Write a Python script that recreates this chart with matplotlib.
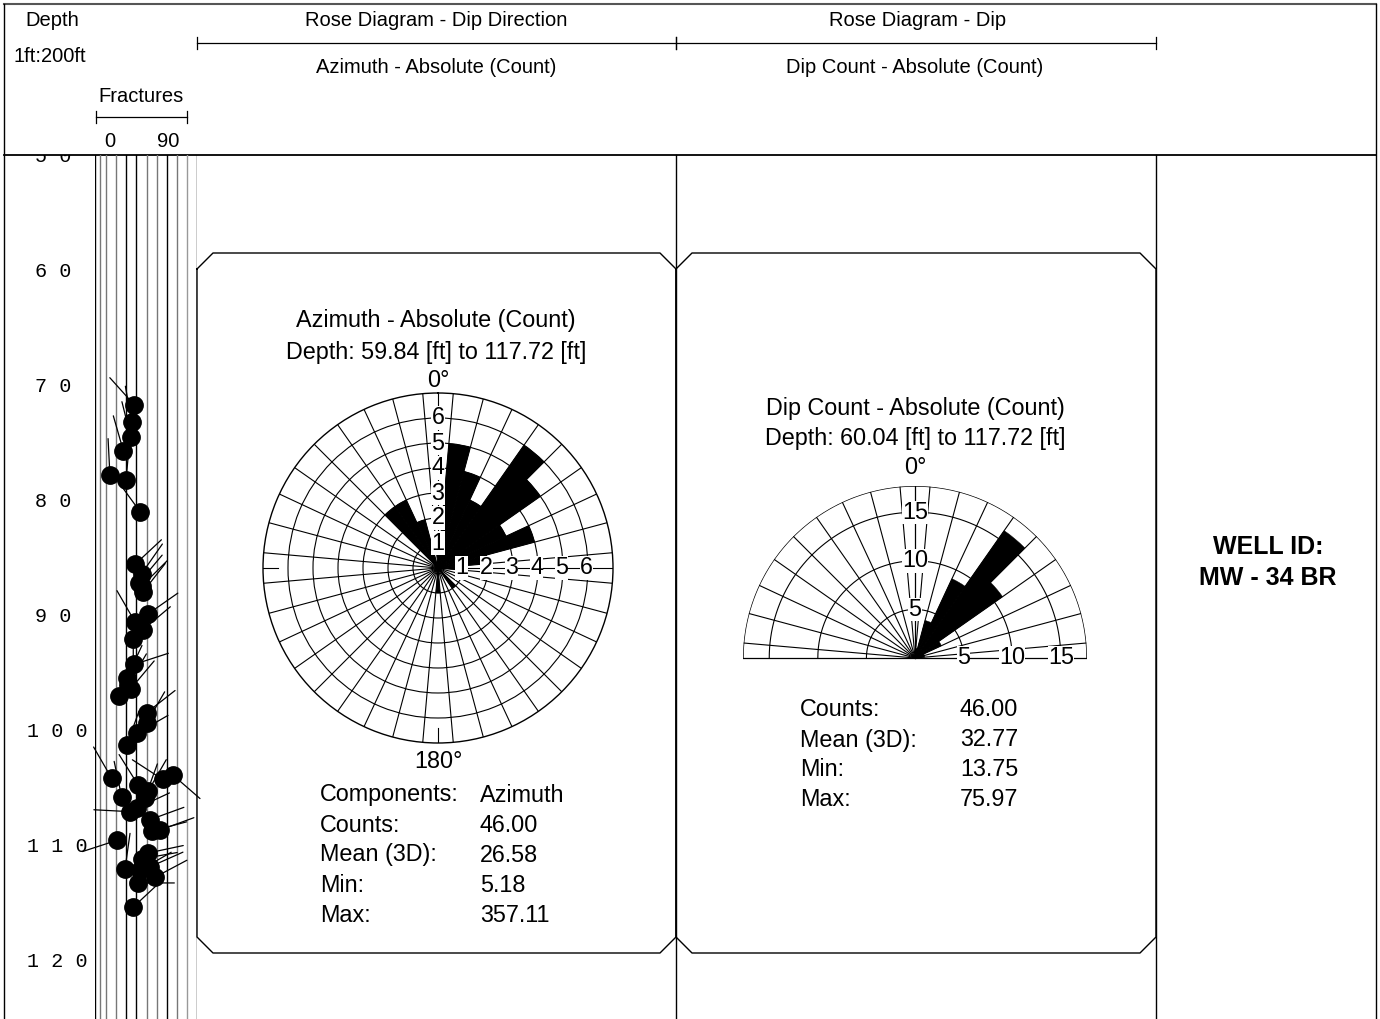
import numpy as np
import matplotlib.pyplot as plt

plt.rcParams['font.family'] = ['Liberation Sans', 'DejaVu Sans']

# ---------------- data ----------------
depth_ticks = [50, 60, 70, 80, 90, 100, 110, 120]

# fracture tadpoles: depth [ft], dip [deg], dip azimuth [deg]
frac_depth = [71.7, 73.2, 74.5, 75.7, 77.8, 78.3, 81.0, 85.6, 86.4, 87.5,
              88.0, 89.9, 90.6, 91.3, 92.1, 94.3, 95.5, 96.1, 97.0, 98.5,
              99.4, 100.3, 101.3, 104.2, 105.8, 104.8, 105.3, 104.3, 103.9, 107.1,
              106.8, 107.8, 108.8, 108.7, 109.6, 111.2, 112.1, 111.9, 112.8, 113.3,
              115.4, 110.7, 87.2, 96.4, 105.9, 112.2]
frac_dip = [37.6, 35.3, 34.3, 27.0, 13.75, 29.7, 43.5, 38.6, 45.2, 45.2,
            46.5, 51.7, 38.6, 46.2, 36.9, 37.6, 30.4, 32.0, 23.0, 50.1,
            50.1, 40.3, 30.4, 15.5, 25.4, 41.8, 51.7, 66.0, 75.97, 33.6,
            40.3, 53.4, 55.1, 63.3, 20.5, 45.2, 28.7, 53.4, 58.4, 41.8,
            36.9, 51.4, 42.5, 34.6, 48.5, 43.5]
frac_azi = [318, 350, 346, 344, 357.11, 5.18, 324, 47, 35, 45,
            38, 55, 330, 50, 180, 72, 25, 30, 20, 52,
            30, 60, 20, 330, 348, 328, 30, 303, 131, 273,
            65, 70, 75, 70, 252, 80, 8, 66, 62, 90,
            47, 78, 40, 40, 20, 60]

# rose diagram - dip direction (10 deg bins)
az_bins = np.arange(0, 360, 10)
az_counts = [1, 5, 4, 3, 6, 5, 3, 4, 2, 1, 0, 0, 0, 0, 1, 0, 0, 0,
             1, 0, 0, 0, 0, 0, 0, 0, 0, 0, 0, 0, 0, 0, 3, 3, 2, 0]

# rose diagram - dip (10 deg bins)
dip_bins = np.arange(0, 100, 10)
dip_counts = [0, 1, 4, 9, 16, 11, 3, 1, 1, 0]

az_stats = [('Components:', 'Azimuth'), ('Counts:', '46.00'), ('Mean (3D):', '26.58'),
            ('Min:', '5.18'), ('Max:', '357.11')]
dip_stats = [('Counts:', '46.00'), ('Mean (3D):', '32.77'), ('Min:', '13.75'), ('Max:', '75.97')]

W, H = 1380, 1019
fig = plt.figure(figsize=(W / 100, H / 100), dpi=100)


def px_rect(x0, y0, x1, y1):
    # pixel box (top-left origin) -> figure fraction rect
    return [x0 / W, 1 - y1 / H, (x1 - x0) / W, (y1 - y0) / H]


# ---------------- frame / header ----------------
base = fig.add_axes([0, 0, 1, 1])
base.set_xlim(0, W)
base.set_ylim(H, 0)
base.axis('off')

lc = 'black'
base.plot([4, 1376], [4, 4], color='#555555', lw=1.5)
base.plot([4, 4], [4, H], color=lc, lw=1)
base.plot([1376, 1376], [4, H], color=lc, lw=1)
base.plot([4, 1376], [155, 155], color=lc, lw=1.3)
for x in [676, 1156]:
    base.plot([x, x], [155, H], color=lc, lw=1)

# header scale bars
for x0, x1, y in [(197, 676, 43), (676, 1156, 43), (96, 187, 117)]:
    base.plot([x0, x1], [y, y], color=lc, lw=0.9)
    base.plot([x0, x0], [y - 6, y + 6], color=lc, lw=0.9)
    base.plot([x1, x1], [y - 6, y + 6], color=lc, lw=0.9)

hfs = 14.5
base.text(52, 20, 'Depth', ha='center', va='center', fontsize=hfs)
base.text(50, 56, '1ft:200ft', ha='center', va='center', fontsize=hfs)
base.text(141, 96, 'Fractures', ha='center', va='center', fontsize=hfs)
base.text(110, 141, '0', ha='center', va='center', fontsize=hfs)
base.text(168, 141, '90', ha='center', va='center', fontsize=hfs)
base.text(436, 20, 'Rose Diagram - Dip Direction', ha='center', va='center', fontsize=hfs)
base.text(436, 67, 'Azimuth - Absolute (Count)', ha='center', va='center', fontsize=hfs)
base.text(918, 20, 'Rose Diagram - Dip', ha='center', va='center', fontsize=hfs)
base.text(915, 67, 'Dip Count - Absolute (Count)', ha='center', va='center', fontsize=hfs)

# chamfered panels
ch = 16
for x0, x1 in [(197, 676), (676, 1156)]:
    y0, y1 = 253, 953
    px = [x0, x0 + ch, x1 - ch, x1, x1, x1 - ch, x0 + ch, x0, x0]
    py = [y0 + ch, y0, y0, y0 + ch, y1 - ch, y1, y1, y1 - ch, y0 + ch]
    base.plot(px, py, color=lc, lw=1)

rfs = 16.8
base.text(436, 321, 'Azimuth - Absolute (Count)', ha='center', va='center', fontsize=rfs)
base.text(436, 352, 'Depth: 59.84 [ft] to 117.72 [ft]', ha='center', va='center', fontsize=rfs)
base.text(915, 408, 'Dip Count - Absolute (Count)', ha='center', va='center', fontsize=rfs)
base.text(915, 439, 'Depth: 60.04 [ft] to 117.72 [ft]', ha='center', va='center', fontsize=rfs)

for i, (lab, val) in enumerate(az_stats):
    base.text(320, 795 + 30 * i, lab, ha='left', va='center', fontsize=rfs)
    base.text(480, 795 + 30 * i, val, ha='left', va='center', fontsize=rfs)
for i, (lab, val) in enumerate(dip_stats):
    base.text(800, 710 + 30 * i, lab, ha='left', va='center', fontsize=rfs)
    base.text(960, 710 + 30 * i, val, ha='left', va='center', fontsize=rfs)

base.text(1268, 547, 'WELL ID:', ha='center', va='center', fontsize=18, fontweight='bold')
base.text(1268, 578, 'MW - 34 BR', ha='center', va='center', fontsize=18, fontweight='bold')

# ---------------- depth track ----------------
d_top = 50
d_bot = 50 + (H - 155) / 11.5
axd = fig.add_axes(px_rect(4, 155, 95, H))
axd.set_xlim(4, 95)
axd.set_ylim(d_bot, d_top)
axd.axis('off')
for d in depth_ticks:
    s = ' '.join(str(d))
    axd.text(53 + 4 * (len(str(d)) - 2), d + 0.1, s, ha='center', va='center', fontsize=14.5,
             family=['Liberation Mono', 'DejaVu Sans Mono'], clip_on=True)

# ---------------- fracture track ----------------
axf = fig.add_axes(px_rect(95, 155, 197, H))
axf.set_xlim(-1, 100)
axf.set_ylim(d_bot, d_top)
axf.axis('off')
grid_x = [-1, 4, 10, 20, 30, 40, 50, 60, 70, 80, 90, 100]
grid_c = ['black', '#777777', '#777777', '#777777', 'black', 'black',
          '#777777', '#777777', 'black', '#777777', '#999999', 'black']
for gx, gc in zip(grid_x, grid_c):
    axf.axvline(gx, color=gc, lw=1)

tail = 26
for d, dp, az in zip(frac_depth, frac_dip, frac_azi):
    a = np.deg2rad(az)
    axf.annotate('', xy=(dp, d), xytext=(tail * np.sin(a), tail * np.cos(a)),
                 textcoords='offset points', annotation_clip=False,
                 arrowprops=dict(arrowstyle='-', color='black', lw=0.9,
                                 shrinkA=0, shrinkB=0))
axf.plot(frac_dip, frac_depth, 'o', ms=12.5, color='black', zorder=3, clip_on=False)

lbl_box = dict(fc='white', ec='none', pad=0.1)

# ---------------- rose: dip direction ----------------
az_r = 175
az_max = 7
axa = fig.add_axes(px_rect(438 - az_r, 568 - az_r, 438 + az_r, 568 + az_r), projection='polar')
axa.set_theta_zero_location('N')
axa.set_theta_direction(-1)
axa.set_ylim(0, az_max)
spokes = np.arange(5, 360, 10)
axa.set_thetagrids(spokes, labels=[''] * len(spokes))
axa.set_rgrids([1, 2, 3, 4, 5, 6], labels=[''] * 6)
axa.grid(True, color='black', lw=0.8)
axa.spines['polar'].set_linewidth(1)
axa.set_axisbelow(True)
axa.set_facecolor('none')
axa.bar(np.deg2rad(az_bins), az_counts, width=np.deg2rad(10), color='black',
        edgecolor='black', lw=0.3, zorder=2)
axa.plot([0, 0], [0, az_max], color='black', lw=0.8, zorder=1)
axa.plot([np.pi / 2, np.pi / 2], [0, az_max], color='black', lw=0.8, zorder=1)
for t in [np.pi, 1.5 * np.pi]:
    axa.plot([t, t], [6.4, az_max], color='black', lw=0.8)
for r in range(1, 7):
    axa.text(0, r, str(r), ha='center', va='center', fontsize=rfs, zorder=4, bbox=lbl_box)
    axa.text(np.pi / 2, r - 0.05, str(r), ha='center', va='center', fontsize=rfs, zorder=4,
             bbox=lbl_box)
axa.text(0, 7.5, '0°', ha='center', va='center', fontsize=rfs)
axa.text(np.pi, 7.75, '180°', ha='center', va='center', fontsize=rfs)

# ---------------- rose: dip (upper half) ----------------
dp_r = 172
dp_max = 17.7
axp = fig.add_axes(px_rect(915 - dp_r, 658 - dp_r, 915 + dp_r, 658 + dp_r), projection='polar')
axp.set_theta_zero_location('N')
axp.set_theta_direction(-1)
axp.set_ylim(0, dp_max)
axp.set_xticks([])
axp.set_yticks([])
axp.grid(False)
axp.spines['polar'].set_visible(False)
axp.set_facecolor('none')
half = np.deg2rad(np.linspace(-90, 90, 181))
for r in [5, 10, 15, dp_max]:
    axp.plot(half, np.full_like(half, r), color='black', lw=0.8 if r < dp_max else 1, zorder=1)
for s in np.arange(-85, 90, 10):
    axp.plot([np.deg2rad(s)] * 2, [0, dp_max], color='black', lw=0.8, zorder=1)
for s in [-90, 0, 90]:
    axp.plot([np.deg2rad(s)] * 2, [0, dp_max], color='black', lw=0.9, zorder=1)
axp.bar(np.deg2rad(dip_bins), dip_counts, width=np.deg2rad(10), color='black',
        edgecolor='black', lw=0.3, zorder=2)
for r in [5, 10, 15]:
    axp.text(0, r, str(r), ha='center', va='center', fontsize=rfs, zorder=4, bbox=lbl_box)
    axp.text(np.pi / 2, r, str(r), ha='center', va='center', fontsize=rfs, zorder=4,
             bbox=lbl_box)
axp.text(0, 19.6, '0°', ha='center', va='center', fontsize=rfs)

fig.savefig('out.png', dpi=100)
